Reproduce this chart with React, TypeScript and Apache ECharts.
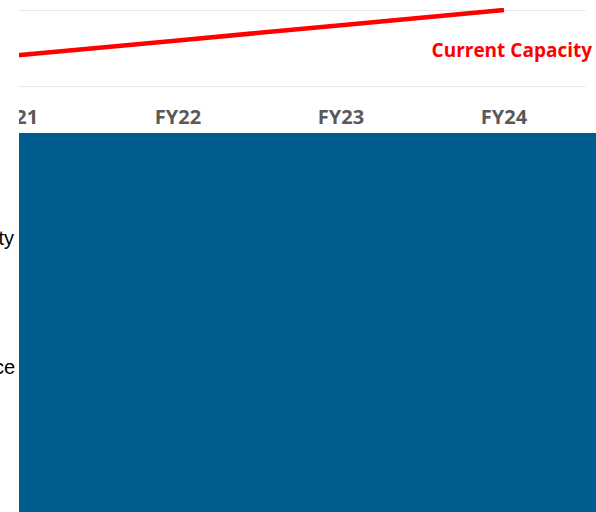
import React, { useEffect, useRef } from "react";
import * as echarts from "echarts";

const categories = ["FY21", "FY22", "FY23", "FY24"];
const capacityValues = [40, 60, 80, 100];
const seriesName = "Current Capacity";
const sideLabels = ["ty", "ce"];

const SHIFT = 67; // chart canvas starts this far left of the page

export default function App() {
  const ref = useRef<HTMLDivElement>(null);
  useEffect(() => {
    if (!ref.current) return;
    const chart = echarts.init(ref.current, undefined, { renderer: "svg" });
    chart.setOption({
      animation: false,
      backgroundColor: "#ffffff",
      grid: { left: 0.5, width: 652, top: 10, height: 76 },
      xAxis: {
        type: "category",
        data: categories,
        axisLine: { show: false },
        axisTick: { show: false },
        axisLabel: {
          color: "#595959",
          fontFamily: "Open Sans",
          fontWeight: "bold",
          fontSize: 20,
          margin: 20,
        },
      },
      yAxis: {
        type: "value",
        min: 0,
        max: 100,
        interval: 100,
        axisLabel: { show: false },
        axisLine: { show: false },
        axisTick: { show: false },
        splitLine: { lineStyle: { color: "#e6e6e6", width: 1 } },
      },
      series: [
        {
          name: seriesName,
          type: "line",
          data: capacityValues,
          showSymbol: false,
          symbol: "none",
          lineStyle: { color: "#ff0000", width: 4.5 },
          z: 2,
        },
      ],
      graphic: [
        {
          type: "rect",
          z: 100,
          shape: { x: 0, y: 0, width: 19 + SHIFT, height: 133 },
          style: { fill: "#ffffff" },
        },
        {
          type: "rect",
          z: 100,
          shape: { x: 19 + SHIFT, y: 133, width: 577, height: 379 },
          style: { fill: "#005b8f" },
        },
        {
          type: "text",
          z: 101,
          x: 592 + SHIFT,
          y: 50,
          style: {
            text: seriesName,
            fill: "#ff0000",
            font: "bold 19px 'Open Sans'",
            align: "right",
            verticalAlign: "middle",
          },
        },
        {
          type: "text",
          z: 101,
          x: 14 + SHIFT,
          y: 238,
          style: {
            text: sideLabels[0],
            fill: "#000000",
            font: "20px 'Liberation Sans'",
            align: "right",
            verticalAlign: "middle",
          },
        },
        {
          type: "text",
          z: 101,
          x: 15 + SHIFT,
          y: 367,
          style: {
            text: sideLabels[1],
            fill: "#000000",
            font: "20px 'Liberation Sans'",
            align: "right",
            verticalAlign: "middle",
          },
        },
      ],
    });
    return () => chart.dispose();
  }, []);
  return (
    <div
      style={{
        position: "fixed",
        left: 0,
        top: 0,
        width: 596,
        height: 512,
        overflow: "hidden",
        background: "#ffffff",
      }}
    >
      <div
        ref={ref}
        style={{ position: "absolute", left: -SHIFT, top: 0, width: 596 + SHIFT, height: 512 }}
      />
    </div>
  );
}
